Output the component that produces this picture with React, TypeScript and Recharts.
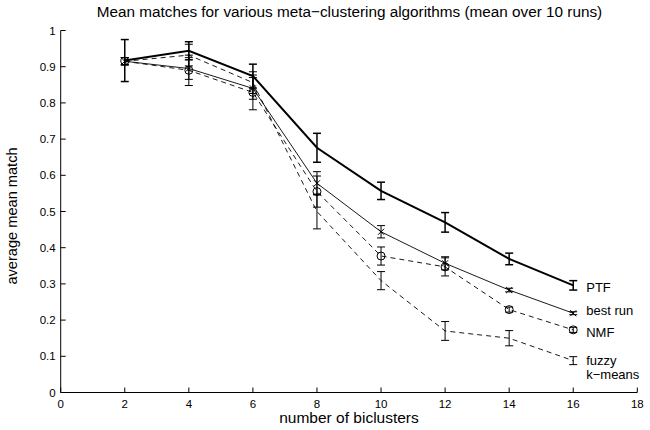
import React from 'react';
import { LineChart, Line, XAxis, YAxis, ErrorBar, Label } from 'recharts';

const biclusters = [2, 4, 6, 8, 10, 12, 14, 16];
const ptfMean = [0.917, 0.944, 0.874, 0.676, 0.557, 0.47, 0.369, 0.296];
const ptfErr = [0.058, 0.025, 0.033, 0.04, 0.024, 0.027, 0.016, 0.013];
const bestMean = [0.915, 0.895, 0.84, 0.578, 0.444, 0.357, 0.283, 0.219];
const bestErr = [0.01, 0.03, 0.03, 0.032, 0.017, 0.018, 0.005, 0.004];
const nmfMean = [0.915, 0.89, 0.829, 0.555, 0.377, 0.347, 0.229, 0.173];
const nmfErr = [0.01, 0.042, 0.048, 0.043, 0.025, 0.025, 0.007, 0.007];
const fuzzyMean = [0.915, 0.932, 0.856, 0.5, 0.309, 0.17, 0.15, 0.088];
const fuzzyErr = [0.01, 0.03, 0.03, 0.048, 0.025, 0.026, 0.021, 0.011];

const xTicks = [0, 2, 4, 6, 8, 10, 12, 14, 16, 18];
const yTicks = [0, 0.1, 0.2, 0.3, 0.4, 0.5, 0.6, 0.7, 0.8, 0.9, 1];

const data = biclusters.map((n, i) => ({
  n,
  ptf: ptfMean[i],
  ptfErr: ptfErr[i],
  best: bestMean[i],
  bestErr: bestErr[i],
  nmf: nmfMean[i],
  nmfErr: nmfErr[i],
  fuzzy: fuzzyMean[i],
  fuzzyErr: fuzzyErr[i],
}));

const font = '"Liberation Sans", Arial, Helvetica, sans-serif';
const last = biclusters.length - 1;

// text name written next to the last point of a series
const endLabel = (lines: string[], dy: number) => (props: any) => {
  if (props.index !== last) return null;
  return (
    <text x={props.x + 13} y={props.y + dy} fontSize={13} fontFamily={font} fill="#000">
      {lines.map((t, i) => (
        <tspan key={t} x={props.x + 13} dy={i === 0 ? 0 : 14}>
          {t}
        </tspan>
      ))}
    </text>
  );
};

const xMark = (props: any) => {
  const { cx, cy, index } = props;
  return (
    <path
      key={index}
      d={`M${cx - 3},${cy - 3}L${cx + 3},${cy + 3}M${cx - 3},${cy + 3}L${cx + 3},${cy - 3}`}
      stroke="#000"
      strokeWidth={1}
    />
  );
};

const YLabel = () => (
  <text
    x={17}
    y={216}
    transform="rotate(-90 17 216)"
    textAnchor="middle"
    fontSize={14.6}
    fontFamily={font}
    fill="#000"
  >
    average mean match
  </text>
);

export default function App() {
  return (
    <div style={{ position: 'absolute', left: 0, top: 0, width: 650, height: 430, background: '#fff' }}>
      <div
        style={{
          position: 'absolute',
          left: 61,
          width: 577,
          top: 3,
          textAlign: 'center',
          fontFamily: font,
          fontSize: 15.3,
          color: '#000',
        }}
      >
        Mean matches for various meta−clustering algorithms (mean over 10 runs)
      </div>
      <LineChart width={650} height={430} data={data} margin={{ top: 30.5, right: 12.7, left: 0, bottom: 0 }}>
        <XAxis
          dataKey="n"
          type="number"
          domain={[0, 18]}
          ticks={xTicks}
          height={37.5}
          tickSize={-5}
          tickMargin={12}
          stroke="#000"
          tick={{ fill: '#000', fontSize: 11.5, fontFamily: font }}
        >
          <Label
            value="number of biclusters"
            position="insideBottom"
            offset={7}
            style={{ fill: '#000', fontSize: 15.5, fontFamily: font }}
          />
        </XAxis>
        <YAxis
          type="number"
          domain={[0, 1]}
          ticks={yTicks}
          width={60.7}
          tickSize={-5}
          tickMargin={10}
          stroke="#000"
          tick={{ fill: '#000', fontSize: 11.5, fontFamily: font }}
          label={<YLabel />}
        />
        <Line
          dataKey="fuzzy"
          stroke="#000"
          strokeWidth={0.9}
          strokeDasharray="5 4"
          dot={false}
          isAnimationActive={false}
          label={endLabel(['fuzzy', 'k−means'], 4)}
        >
          <ErrorBar dataKey="fuzzyErr" direction="y" width={4} stroke="#000" strokeWidth={1} />
        </Line>
        <Line
          dataKey="nmf"
          stroke="#000"
          strokeWidth={0.9}
          strokeDasharray="5 4"
          dot={{ r: 4, stroke: '#000', strokeWidth: 1, fill: 'none', strokeDasharray: '' }}
          isAnimationActive={false}
          label={endLabel(['NMF'], 7)}
        >
          <ErrorBar dataKey="nmfErr" direction="y" width={4} stroke="#000" strokeWidth={1} />
        </Line>
        <Line
          dataKey="best"
          stroke="#000"
          strokeWidth={0.9}
          dot={xMark}
          isAnimationActive={false}
          label={endLabel(['best run'], 2)}
        >
          <ErrorBar dataKey="bestErr" direction="y" width={4} stroke="#000" strokeWidth={1} />
        </Line>
        <Line
          dataKey="ptf"
          stroke="#000"
          strokeWidth={2}
          dot={false}
          isAnimationActive={false}
          label={endLabel(['PTF'], 7)}
        >
          <ErrorBar dataKey="ptfErr" direction="y" width={4} stroke="#000" strokeWidth={1.5} />
        </Line>
      </LineChart>
    </div>
  );
}
